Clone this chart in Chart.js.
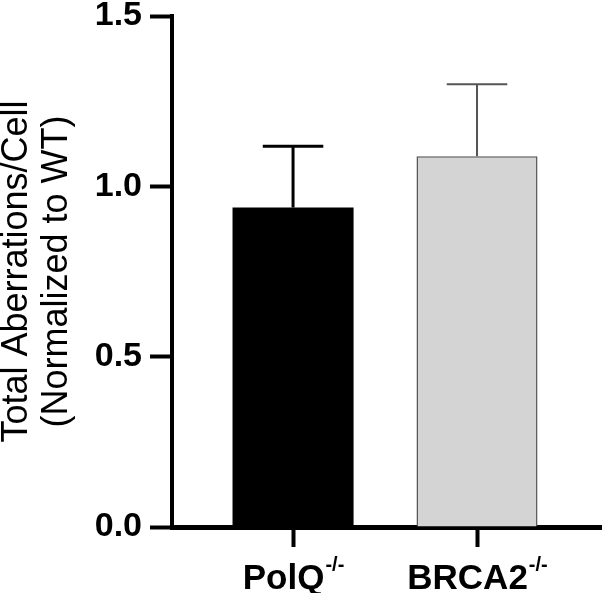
<!DOCTYPE html>
<html>
<head>
<meta charset="utf-8">
<script src="https://cdn.jsdelivr.net/npm/chart.js@4"></script>
<style>
  html, body { margin: 0; padding: 0; background: #fff; }
  #wrap { width: 603px; height: 593px; }
</style>
</head>
<body>
<div id="wrap"><canvas id="chart"></canvas></div>
<script>
// data
const categories = ["PolQ", "BRCA2"];
const superscripts = ["-/-", "-/-"];
const means = [0.938, 1.088];
const errors = [0.18, 0.212];
const yTicks = [0, 0.5, 1.0, 1.5];

const barFill = ["#000000", "#d4d4d4"];
const barBorder = ["#000000", "#555555"];
const errColor = ["#000000", "#555555"];
const errWidth = [3, 2];

const FONT = "'Liberation Sans', Arial, sans-serif";

// draws the upward error bars (GraphPad style) and the x labels with superscripts
const extrasPlugin = {
  id: "extras",
  afterDatasetsDraw(chart) {
    const ctx = chart.ctx;
    const meta = chart.getDatasetMeta(0);
    const y = chart.scales.y;
    meta.data.forEach((bar, i) => {
      const top = y.getPixelForValue(means[i] + errors[i]);
      const capHalf = bar.width / 4;
      ctx.save();
      ctx.strokeStyle = errColor[i];
      ctx.lineWidth = errWidth[i];
      ctx.beginPath();
      ctx.moveTo(bar.x, bar.y);
      ctx.lineTo(bar.x, top);
      ctx.moveTo(bar.x - capHalf, top);
      ctx.lineTo(bar.x + capHalf, top);
      ctx.stroke();
      ctx.restore();
    });
  },
  afterDraw(chart) {
    const ctx = chart.ctx;
    const x = chart.scales.x;
    ctx.save();
    ctx.fillStyle = "#000";
    ctx.textBaseline = "alphabetic";
    ctx.textAlign = "left";
    categories.forEach((name, i) => {
      const cx = x.getPixelForValue(i);
      ctx.font = "bold 35px " + FONT;
      const w1 = ctx.measureText(name).width;
      ctx.font = "bold 20px " + FONT;
      const w2 = ctx.measureText(superscripts[i]).width;
      const start = cx - (w1 + w2) / 2;
      ctx.font = "bold 35px " + FONT;
      ctx.fillText(name, start, 589);
      ctx.font = "bold 20px " + FONT;
      ctx.fillText(superscripts[i], start + w1 + 1, 571);
    });
    ctx.restore();
  }
};

new Chart(document.getElementById("chart"), {
  type: "bar",
  data: {
    datasets: [{
      data: categories.map((c, i) => ({ x: i, y: means[i] })),
      backgroundColor: barFill,
      borderColor: barBorder,
      borderWidth: [0, 1.5],
      barPercentage: 0.658,
      categoryPercentage: 1
    }]
  },
  options: {
    responsive: true,
    maintainAspectRatio: false,
    animation: false,
    layout: { padding: { top: 16, right: 2, left: 0, bottom: 0 } },
    plugins: { legend: { display: false }, tooltip: { enabled: false } },
    scales: {
      x: {
        type: "linear",
        offset: false,
        min: -0.658,
        max: 1.674,
        afterBuildTicks(scale) {
          scale.ticks = categories.map((c, i) => ({ value: i }));
        },
        afterFit(scale) { scale.height = 66; scale.paddingLeft = 0; scale.paddingRight = 0; },
        border: { display: true, color: "#000", width: 5 },
        grid: { offset: false, drawOnChartArea: false, drawTicks: true, tickLength: 20, tickWidth: 4, tickColor: "#000" },
        ticks: { callback: () => "", font: { size: 10 } }
      },
      y: {
        min: 0,
        max: 1.5,
        afterBuildTicks(scale) {
          scale.ticks = yTicks.map(v => ({ value: v }));
        },
        afterFit(scale) { scale.width = 172; scale.paddingTop = 0; scale.paddingBottom = 0; },
        border: { display: true, color: "#000", width: 4 },
        grid: { drawOnChartArea: false, drawTicks: true, tickLength: 22, tickWidth: 4, tickColor: "#000" },
        ticks: {
          color: "#000",
          padding: 8,
          font: { family: FONT, size: 34, weight: "bold" },
          callback: v => Number(v).toFixed(1)
        },
        title: {
          display: true,
          text: ["Total Aberrations/Cell", "(Normalized to WT)"],
          color: "#000",
          font: { family: FONT, size: 36, weight: "normal", lineHeight: 1.12 },
          padding: { top: -3, bottom: 0 }
        }
      }
    }
  },
  plugins: [extrasPlugin]
});
</script>
</body>
</html>
